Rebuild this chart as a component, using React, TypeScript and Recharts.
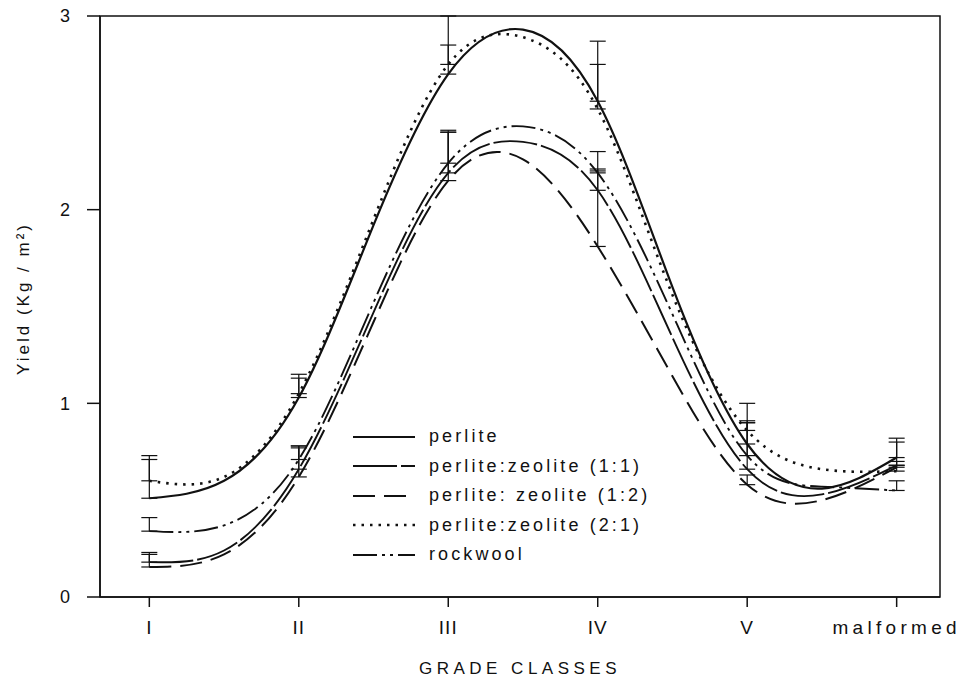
import React from 'react';
import { LineChart, Line, XAxis, YAxis, ErrorBar, Legend, ReferenceArea, Label } from 'recharts';

const FONT = '"Liberation Sans", Arial, Helvetica, sans-serif';

const gradeLabels = ['I', 'II', 'III', 'IV', 'V', 'malformed'];
const gradeTicks = [0, 1, 2, 3, 4, 5];
const yieldTicks = [0, 1, 2, 3];

const samplePos = [0, 0.5, 1, 1.5, 2, 2.5, 3, 3.5, 4, 4.5, 5];

const perlite = [0.51, 0.6, 1.03, 1.92, 2.7, 2.93, 2.56, 1.6, 0.79, 0.56, 0.72];
const perliteZeolite11 = [0.18, 0.24, 0.66, 1.47, 2.19, 2.35, 2.1, 1.34, 0.66, 0.53, 0.68];
const perliteZeolite12 = [0.155, 0.22, 0.62, 1.42, 2.15, 2.26, 1.81, 1.14, 0.58, 0.5, 0.67];
const perliteZeolite21 = [0.6, 0.62, 1.05, 1.95, 2.75, 2.89, 2.52, 1.56, 0.86, 0.66, 0.65];
const rockwool = [0.34, 0.37, 0.71, 1.52, 2.24, 2.43, 2.19, 1.46, 0.73, 0.57, 0.55];

// upper error bars, one per grade class
const perliteErr = [0.22, 0.12, 0.3, 0.31, 0.21, 0.1];
const perliteZeolite11Err = [0.04, 0.12, 0.21, 0.1, 0.24, 0.12];
const perliteZeolite12Err = [0.075, 0.15, 0.25, 0.4, 0.05, 0.03];
const perliteZeolite21Err = [0.11, 0.08, 0.1, 0.23, 0.05, 0.03];
const rockwoolErr = [0.07, 0.07, 0.17, 0.11, 0.17, 0.05];

const series = [
  { key: 'perlite', name: 'perlite', values: perlite, err: perliteErr, dash: undefined, width: 2.2 },
  { key: 'pz11', name: 'perlite:zeolite (1:1)', values: perliteZeolite11, err: perliteZeolite11Err, dash: '44 4', width: 1.9 },
  { key: 'pz12', name: 'perlite: zeolite (1:2)', values: perliteZeolite12, err: perliteZeolite12Err, dash: '22 9', width: 2 },
  { key: 'pz21', name: 'perlite:zeolite (2:1)', values: perliteZeolite21, err: perliteZeolite21Err, dash: '2.5 6', width: 2.6 },
  { key: 'rock', name: 'rockwool', values: rockwool, err: rockwoolErr, dash: '24 5 3 5 3 5', width: 1.9 },
];

const rows = samplePos.map((pos, i) => {
  const row: Record<string, any> = { pos };
  const g = i % 2 === 0 ? i / 2 : -1;
  series.forEach((s) => {
    row[s.key] = s.values[i];
    row[s.key + 'Err'] = g >= 0 ? [0, s.err[g]] : null;
  });
  return row;
});

const GradeTick = (props: any) => {
  const { x, y, payload } = props;
  const label = gradeLabels[payload.value];
  const long = label.length > 3;
  return (
    <text x={x} y={y} dy={15} textAnchor="middle" fontSize={19} fill="#111"
      fontFamily={FONT} letterSpacing={long ? 4.3 : 1}>
      {label}
    </text>
  );
};

const YLabel = (props: any) => {
  const vb = props.viewBox;
  const cx = vb.x + 23;
  const cy = vb.y + vb.height / 2 - 8;
  return (
    <text x={cx} y={cy} transform={`rotate(-90 ${cx} ${cy})`} textAnchor="middle" dominantBaseline="central"
      fontSize={17} fill="#111" fontFamily={FONT} letterSpacing={3}>
      Yield (Kg / m²)
    </text>
  );
};

const LegendBox = () => (
  <div style={{ fontFamily: FONT, color: '#111' }}>
    {series.map((s) => (
      <div key={s.key} style={{ display: 'flex', alignItems: 'center', height: 29.5 }}>
        <svg width={66} height={10}>
          <line x1={3} y1={5} x2={65} y2={5} stroke="#111" strokeWidth={s.width} strokeDasharray={s.dash} />
        </svg>
        <span style={{ marginLeft: 13, fontSize: 18, letterSpacing: 3.1, whiteSpace: 'nowrap' }}>{s.name}</span>
      </div>
    ))}
  </div>
);

export default function App() {
  return (
    <div style={{ position: 'absolute', left: 0, top: 0, background: '#fff' }}>
      <LineChart width={966} height={686} data={rows} margin={{ top: 16, right: 26, bottom: 19, left: 0 }}>
        <ReferenceArea x1={-0.33} x2={5.29} y1={0} y2={3} stroke="#111" strokeWidth={1.5} fill="none" fillOpacity={0} />
        <XAxis type="number" dataKey="pos" domain={[-0.33, 5.29]} ticks={gradeTicks} allowDataOverflow
          height={70} tickSize={10} tickMargin={12} tick={<GradeTick />}
          axisLine={{ stroke: '#111', strokeWidth: 1.5 }} tickLine={{ stroke: '#111', strokeWidth: 1.5 }}>
          <Label value="GRADE CLASSES" position="insideBottom" offset={-7} fontSize={17} fill="#111"
            fontFamily={FONT} letterSpacing={4.5} />
        </XAxis>
        <YAxis type="number" domain={[0, 3]} ticks={yieldTicks} width={100} tickSize={13} tickMargin={17}
          tick={{ fontSize: 18, fill: '#111', fontFamily: FONT }}
          axisLine={{ stroke: '#111', strokeWidth: 1.5 }} tickLine={{ stroke: '#111', strokeWidth: 1.5 }}>
          <Label content={<YLabel />} />
        </YAxis>
        {series.map((s) => (
          <Line key={s.key} dataKey={s.key} name={s.name} type="natural" stroke="#111" strokeWidth={s.width}
            strokeDasharray={s.dash} dot={false} activeDot={false} isAnimationActive={false}>
            <ErrorBar dataKey={s.key + 'Err'} direction="y" width={8} stroke="#111" strokeWidth={1.2} />
          </Line>
        ))}
        <Legend layout="vertical" align="center" verticalAlign="middle"
          wrapperStyle={{ left: 350, top: 422, width: 340 }} content={() => <LegendBox />} />
      </LineChart>
    </div>
  );
}
